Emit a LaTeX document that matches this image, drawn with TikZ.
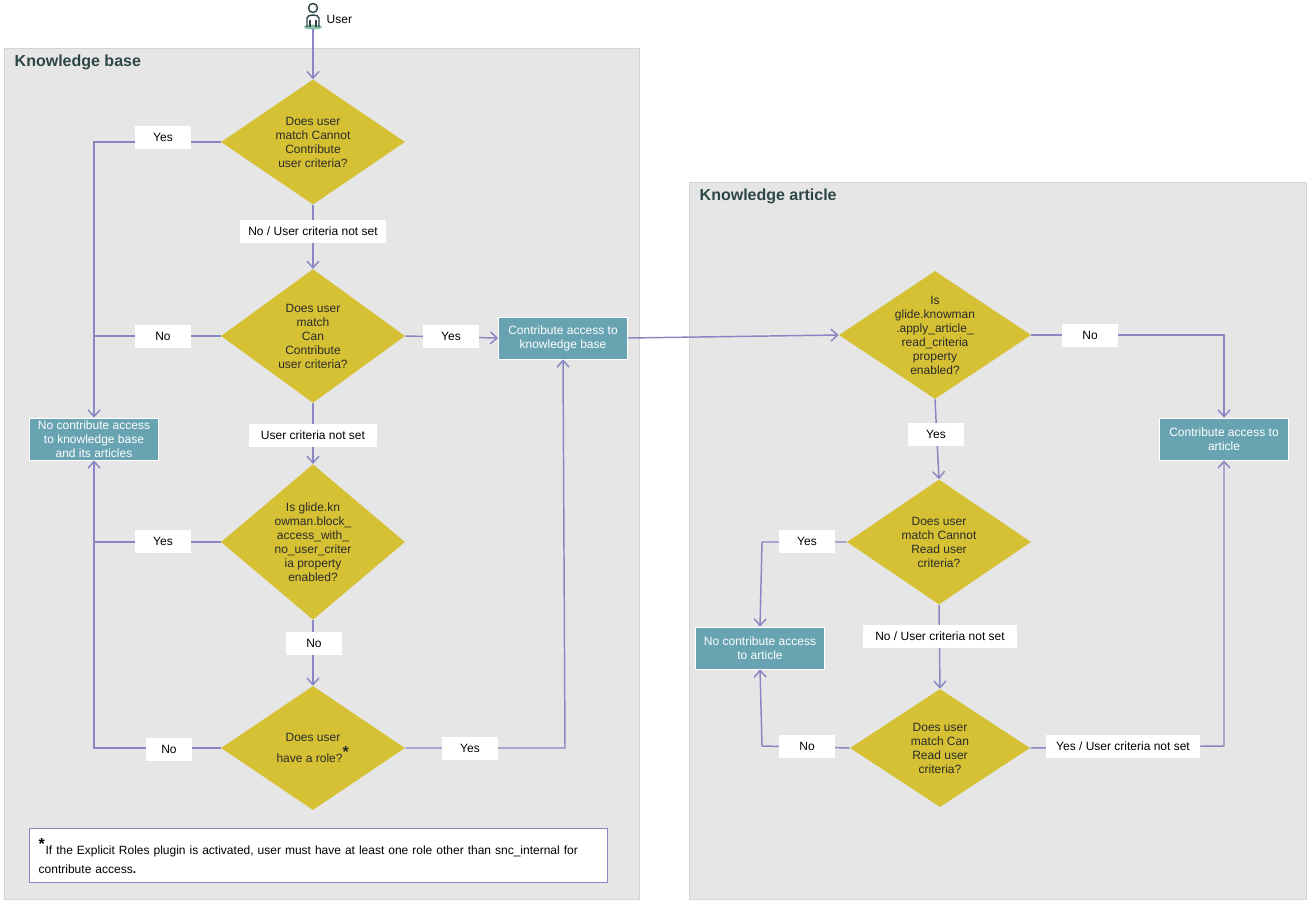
\documentclass[tikz,border=0pt]{standalone}
\usepackage{fontspec}
\setmainfont{Liberation Sans}
\usetikzlibrary{shapes.geometric,arrows.meta}
\definecolor{panel}{HTML}{E6E6E6}
\definecolor{pborder}{HTML}{D4D4D4}
\definecolor{dyel}{HTML}{D5C133}
\definecolor{teal}{HTML}{67A3B1}
\definecolor{lin}{HTML}{8A86C4}
\definecolor{ttl}{HTML}{2E4646}
\definecolor{dtxt}{HTML}{2B2B2B}
\definecolor{ugreen}{HTML}{8CBEA5}
\tikzset{
 dec/.style={diamond,fill=dyel,inner sep=0pt,minimum width=184*0.75pt,minimum height=124*0.75pt,align=center,text=dtxt,font=\fontsize{9}{10.5}\selectfont},
 res/.style={rectangle,fill=teal,draw=white,line width=0.6pt,text=white,align=center,minimum width=129*0.75pt,minimum height=42*0.75pt,inner sep=1pt,font=\fontsize{9}{10.5}\selectfont},
 lbl/.style={rectangle,fill=white,text=black,inner sep=0pt,minimum height=23*0.75pt,font=\fontsize{9}{10.5}\selectfont},
 conn/.style={draw=lin,line width=1.1pt,-{Straight Barb[length=5pt,width=9pt,line width=1.1pt]}},
 seg/.style={draw=lin,line width=1.1pt},
}
\begin{document}
\begin{tikzpicture}[x=0.75pt,y=-0.75pt]
\useasboundingbox (0,0) rectangle (1307,900);
% panels
\fill[panel,draw=pborder] (4,48) rectangle (639,899);
\fill[panel,draw=pborder] (689,182) rectangle (1306,899);
\node[anchor=west,font=\bfseries\fontsize{12}{14}\selectfont,text=ttl] (t1) at (10,62) {Knowledge base};
\node[anchor=west,font=\bfseries\fontsize{12}{14}\selectfont,text=ttl] (t2) at (695,196) {Knowledge article};
% user icon
\fill[ugreen] (313,27) ellipse (9 and 2.5);
\draw[line width=1.1pt,ttl] (313,8) circle (4.5);
\draw[line width=1.1pt,ttl] (307,27) -- (307,18) .. controls (307,14) and (319,14) .. (319,18) -- (319,27);
\draw[line width=1pt,ttl] (310,20) -- (310,27) (316,20) -- (316,27);
\coordinate (u) at (313,29);
\node[anchor=west,font=\fontsize{9}{10.5}\selectfont] (ut) at (322,19) {User};
% decisions
\node[dec] (d1) at (313,142) {Does user\\match Cannot\\Contribute\\user criteria?};
\node[dec] (d2) at (313,336) {Does user\\match\\Can\\Contribute\\user criteria?};
\node[dec] (d3) at (313,542) {Is glide.kn\\owman.block\_\\access\_with\_\\no\_user\_criter\\ia property\\enabled?};
\node[dec] (d4) at (313,748) {Does user\\[3pt]have a role?\textsuperscript{\textbf{\large *}}};
\node[dec,inner sep=-9pt,minimum width=192*0.75pt,minimum height=128*0.75pt] (d5) at (935,335) {Is\\glide.knowman\\.apply\_article\_\\read\_criteria\\property\\enabled?};
\node[dec] (d6) at (939,542) {Does user\\match Cannot\\Read user\\criteria?};
\node[dec,minimum width=180*0.75pt,minimum height=118*0.75pt] (d7) at (940,748) {Does user\\match Can\\Read user\\criteria?};
% results
\node[res] (ckb) at (563,338) {Contribute access to\\knowledge base};
\node[res] (nkb) at (94,439) {No contribute access\\to knowledge base\\and its articles};
\node[res] (ca) at (1224,439) {Contribute access to\\article};
\node[res] (nca) at (760,648) {No contribute access\\to article};
% connectors
\draw[conn] (u) -- (d1.north);
\draw[conn] (d1.south) -- (d2.north);
\draw[conn] (d2.south) -- (d3.north);
\draw[conn] (d3.south) -- (d4.north);
\draw[conn] (d1.west) -- (94,142) -- (nkb.north);
\draw[seg] (d2.west) -- (94,336);
\draw[conn] (d4.west) -- (94,748) -- (nkb.south);
\draw[seg] (d3.west) -- (94,542);
\draw[conn] (d2.east) -- (ckb.west);
\draw[conn] (d4.east) -- (565,748) -- (ckb.south);
\draw[conn] (ckb.east) -- (d5.west);
\draw[conn] (d5.east) -- (1224,335) -- (ca.north);
\draw[conn] (d7.east) -- (1224,746) -- (ca.south);
\draw[conn] (d5.south) -- (d6.north);
\draw[conn] (d6.south) -- (d7.north);
\draw[conn] (d6.west) -- (762,542) -- (nca.north);
\draw[conn] (d7.west) -- (762,746) -- (nca.south);
% labels
\node[lbl,minimum width=56*0.75pt] (l1) at (163,137) {Yes};
\node[lbl,minimum width=146*0.75pt] (l2) at (313,231) {No / User criteria not set};
\node[lbl,minimum width=56*0.75pt] (l3) at (163,336) {No};
\node[lbl,minimum width=56*0.75pt] (l4) at (451,336) {Yes};
\node[lbl,minimum width=128*0.75pt] (l5) at (313,435) {User criteria not set};
\node[lbl,minimum width=56*0.75pt] (l6) at (163,541) {Yes};
\node[lbl,minimum width=56*0.75pt] (l7) at (314,643) {No};
\node[lbl,minimum width=46*0.75pt] (l8) at (169,749) {No};
\node[lbl,minimum width=56*0.75pt] (l9) at (470,748) {Yes};
\node[lbl,minimum width=56*0.75pt] (l10) at (1090,335) {No};
\node[lbl,minimum width=56*0.75pt] (l11) at (936,434) {Yes};
\node[lbl,minimum width=56*0.75pt] (l12) at (807,541) {Yes};
\node[lbl,minimum width=154*0.75pt] (l13) at (940,636) {No / User criteria not set};
\node[lbl,minimum width=56*0.75pt] (l14) at (807,746) {No};
\node[lbl,minimum width=154*0.75pt] (l15) at (1123,746) {Yes / User criteria not set};
% footnote
\node[draw=lin,line width=1.1pt,fill=white,anchor=north west,minimum width=578*0.75pt,minimum height=54*0.75pt,text width=560*0.75pt,align=left,inner sep=6pt,font=\fontsize{9}{14}\selectfont] (fn) at (29,828) {\textsuperscript{\textbf{\large *}}If the Explicit Roles plugin is activated, user must have at least one role other than snc\_internal for contribute access\textbf{.}};
\end{tikzpicture}
\end{document}
